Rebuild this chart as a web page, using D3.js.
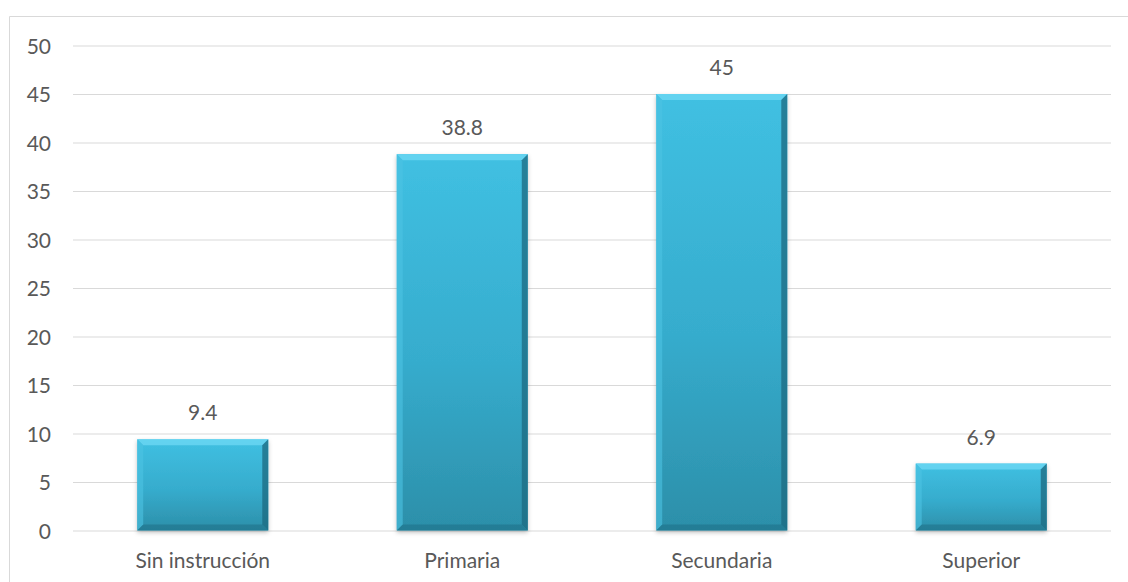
<!DOCTYPE html>
<html>
<head>
<meta charset="utf-8">
<script src="https://cdn.jsdelivr.net/npm/d3@7"></script>
<style>
  html, body { margin: 0; padding: 0; background: #fff; }
  svg { display: block; }
  text { font-family: Lato, "Open Sans", sans-serif; fill: #595959; }
</style>
</head>
<body>
<svg id="chart" width="1128" height="582"></svg>
<script>
// Nivel de instrucción (%)
const categories = ["Sin instrucción", "Primaria", "Secundaria", "Superior"];
const values = [9.4, 38.8, 45, 6.9];
const yTicks = [0, 5, 10, 15, 20, 25, 30, 35, 40, 45, 50];

const svg = d3.select("#chart");
const W = 1128, H = 582;
const plot = { left: 73, right: 1111, top: 45.5, bottom: 530.5 };
const fontSize = "21px";

// Outer frame: top and left edges only
svg.append("path")
  .attr("d", `M9.5,${H} L9.5,16.5 L${W},16.5`)
  .attr("fill", "none").attr("stroke", "#d9d9d9").attr("stroke-width", 1);

const x = d3.scaleBand().domain(categories).range([plot.left, plot.right]).paddingInner(0.495).paddingOuter(0.2475);
const y = d3.scaleLinear().domain([0, 50]).range([plot.bottom, plot.top]);

const defs = svg.append("defs");
const grad = defs.append("linearGradient").attr("id", "barFill").attr("x1", 0).attr("y1", 0).attr("x2", 0).attr("y2", 1);
grad.append("stop").attr("offset", "0%").attr("stop-color", "#40c0e2");
grad.append("stop").attr("offset", "55%").attr("stop-color", "#36accd");
grad.append("stop").attr("offset", "100%").attr("stop-color", "#2c8fa9");

const shadow = defs.append("filter").attr("id", "barShadow").attr("x", "-10%").attr("y", "-10%").attr("width", "120%").attr("height", "130%");
shadow.append("feDropShadow").attr("dx", 0).attr("dy", 2).attr("stdDeviation", 2)
  .attr("flood-color", "#000").attr("flood-opacity", 0.25);

// Gridlines via axis
const yAxis = d3.axisLeft(y).tickValues(yTicks).tickSize(-(plot.right - plot.left)).tickFormat(d3.format("d"));
const gAxis = svg.append("g").attr("transform", `translate(${plot.left},0)`).call(yAxis);
gAxis.select(".domain").remove();
gAxis.selectAll(".tick line").attr("stroke", "#d9d9d9").attr("stroke-width", 1);
gAxis.selectAll(".tick text")
  .attr("x", -22).attr("dy", "0.36em")
  .style("font-size", fontSize).style("font-family", "Lato, 'Open Sans', sans-serif").attr("fill", "#595959");

// Bars with bevelled edges
const bev = 6;
const bars = svg.append("g").selectAll("g").data(categories.map((c, i) => ({ c, v: values[i] }))).join("g");

bars.append("rect")
  .attr("x", d => x(d.c)).attr("y", d => y(d.v))
  .attr("width", x.bandwidth()).attr("height", d => y(0) - y(d.v))
  .attr("fill", "url(#barFill)").attr("filter", "url(#barShadow)");

const facets = [
  { fill: "#6ad6f2", op: 0.85, pts: (x0, x1, y0, y1) => [[x0, y0], [x1, y0], [x1 - bev, y0 + bev], [x0 + bev, y0 + bev]] },
  { fill: "#4cc3e3", op: 0.6,  pts: (x0, x1, y0, y1) => [[x0, y0], [x0 + bev, y0 + bev], [x0 + bev, y1 - bev], [x0, y1]] },
  { fill: "#1c6a80", op: 0.75, pts: (x0, x1, y0, y1) => [[x1, y0], [x1, y1], [x1 - bev, y1 - bev], [x1 - bev, y0 + bev]] },
  { fill: "#1f7188", op: 0.6,  pts: (x0, x1, y0, y1) => [[x0, y1], [x0 + bev, y1 - bev], [x1 - bev, y1 - bev], [x1, y1]] }
];
facets.forEach(f => {
  bars.append("polygon")
    .attr("points", d => {
      const x0 = x(d.c), x1 = x(d.c) + x.bandwidth(), y0 = y(d.v), y1 = y(0);
      return f.pts(x0, x1, y0, y1).map(p => p.join(",")).join(" ");
    })
    .attr("fill", f.fill).attr("opacity", f.op);
});

// Value labels
bars.append("text")
  .attr("x", d => x(d.c) + x.bandwidth() / 2).attr("y", d => y(d.v) - 19)
  .attr("text-anchor", "middle").style("font-size", fontSize)
  .text(d => d.v);

// Category labels
svg.append("g").selectAll("text").data(categories).join("text")
  .attr("x", d => x(d) + x.bandwidth() / 2).attr("y", 568)
  .attr("text-anchor", "middle").style("font-size", fontSize)
  .text(d => d);
</script>
</body>
</html>
